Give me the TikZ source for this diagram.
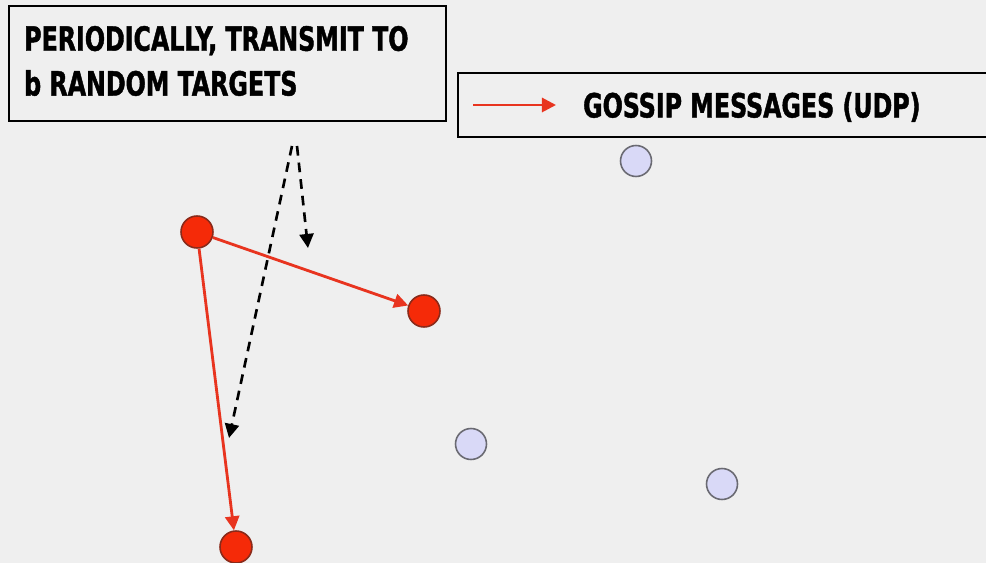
\documentclass[tikz,border=0pt]{standalone}
\usepackage{fontspec}
\setmainfont{DejaVu Sans Condensed}[BoldFeatures={FakeStretch=0.79, FakeBold=1.3}]
\usetikzlibrary{arrows.meta}

\definecolor{bgcol}{HTML}{EFEFEF}
\definecolor{msgred}{HTML}{E8341F}
\definecolor{hotfill}{HTML}{F52A08}
\definecolor{hotedge}{HTML}{8A2A1A}
\definecolor{idlefill}{HTML}{D9D9F7}
\definecolor{idleedge}{HTML}{6A6A72}

\tikzset{
  infected/.style={circle, fill=hotfill, draw=hotedge, line width=0.9pt, minimum size=0.64cm, inner sep=0pt},
  idle/.style={circle, fill=idlefill, draw=idleedge, line width=0.9pt, minimum size=0.62cm, inner sep=0pt},
  gossip/.style={draw=msgred, line width=1.6pt, -{Triangle[length=8pt, width=8pt]}},
  hint/.style={draw=black, line width=1.5pt, dash pattern=on 5.5pt off 4pt, -{Triangle[length=8pt, width=8pt]}},
  note/.style={draw=black, line width=1.4pt, fill=bgcol, inner sep=0pt},
  caps/.style={font=\bfseries\fontsize{19}{25.5}\selectfont}
}

\begin{document}
\begin{tikzpicture}[x=0.02cm, y=-0.02cm]

      % canvas
      \fill[bgcol] (0,0) rectangle (986,563);
      \useasboundingbox (0,0) rectangle (986,563);
      \clip (0,0) rectangle (986,563);

      % Define boxes
      \node[note, anchor=north west, minimum width=8.74cm, minimum height=2.3cm] (rule) at (8,5) {};
      \node[caps, anchor=west, align=left] (rule-text) at (18,61) {PERIODICALLY, TRANSMIT TO\\b RANDOM TARGETS};
      \node[note, anchor=west, minimum width=11.5cm, minimum height=1.28cm] (legend) at (457,105) {};
      \node[caps, anchor=west] (legend-text) at (577,107) {GOSSIP MESSAGES (UDP)};
      \coordinate (key-a) at (473,105);
      \coordinate (key-b) at (556,105);

	  % Define nodes
	  \node[infected] (src)   at (197,232) {};
	  \node[infected] (hit-a) at (424,311) {};
	  \node[infected] (hit-b) at (236,547) {};
	  \node[idle]     (n1)    at (636,161) {};
	  \node[idle]     (n2)    at (471,444) {};
	  \node[idle]     (n3)    at (722,484) {};

	  % pointers from the note
	  \coordinate (from-a) at (297,146);
	  \coordinate (to-a)   at (308,248);
	  \coordinate (from-b) at (292,146);
	  \coordinate (to-b)   at (229,438);

	  % Connect the nodes
	  \draw[gossip] (key-a) -- (key-b);
	  \draw[gossip] (src) -- (hit-a);
	  \draw[gossip] (src) -- (hit-b);
	  \draw[hint] (from-a) -- (to-a);
	  \draw[hint] (from-b) -- (to-b);

\end{tikzpicture}
\end{document}
